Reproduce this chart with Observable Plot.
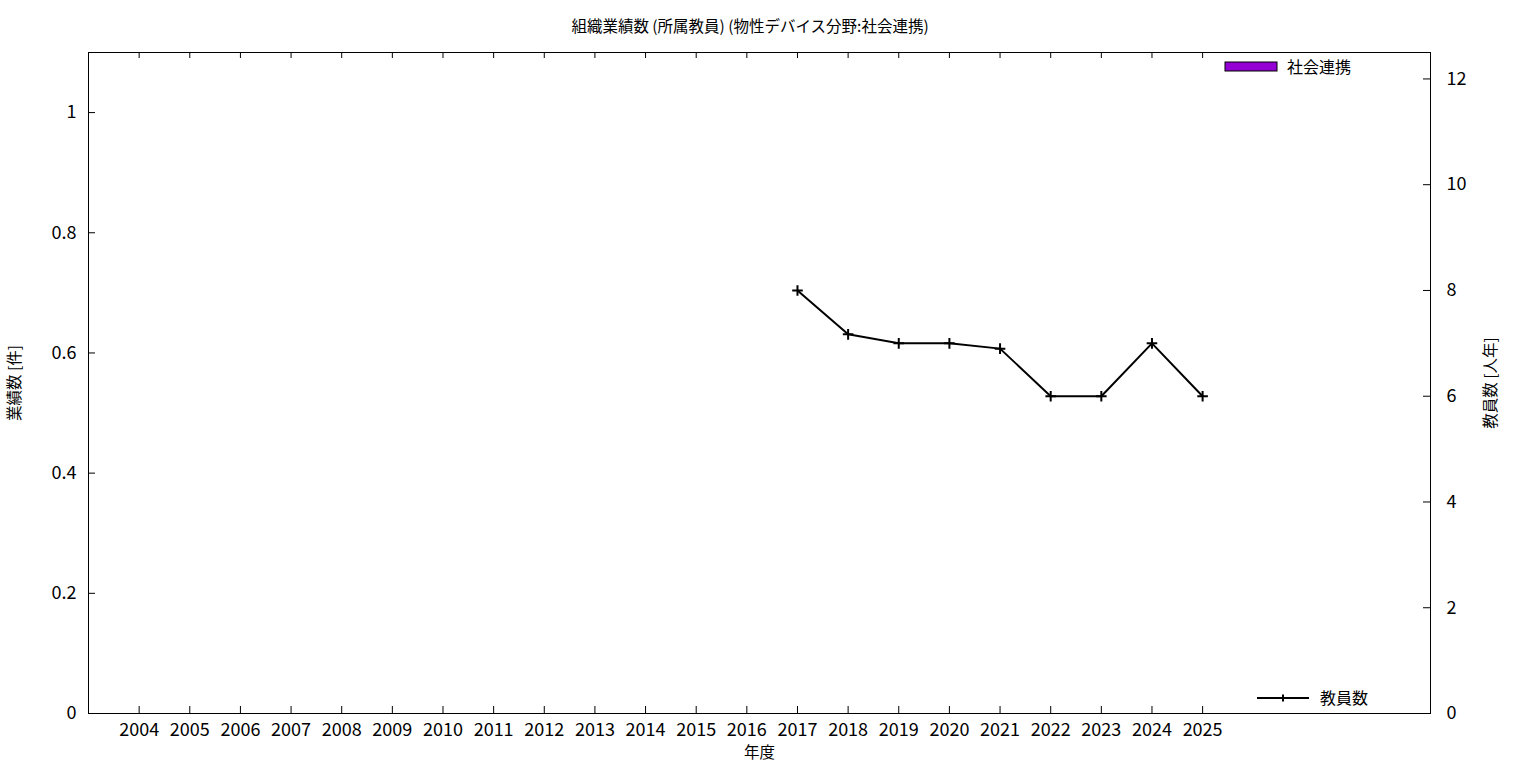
<!DOCTYPE html>
<html>
<head>
<meta charset="utf-8">
<script src="https://cdn.jsdelivr.net/npm/d3@7"></script>
<script src="https://cdn.jsdelivr.net/npm/@observablehq/plot@0.6"></script>
<style>
  html, body { margin: 0; padding: 0; background: #fff; }
  body { width: 1536px; height: 768px; overflow: hidden; font-family: "Noto Sans CJK JP", "Noto Sans", sans-serif; }
  #title { height: 40px; box-sizing: border-box; padding-top: 15px; line-height: 20px; font-size: 15.5px; text-align: center; color: #000; padding-right: 36px; }
  svg { display: block; }
</style>
</head>
<body>
<div id="title">組織業績数 (所属教員) (物性デバイス分野:社会連携)</div>
<div id="chart"></div>
<script>
// ---- data ----
const years = [2004, 2005, 2006, 2007, 2008, 2009, 2010, 2011, 2012, 2013, 2014,
               2015, 2016, 2017, 2018, 2019, 2020, 2021, 2022, 2023, 2024, 2025];
const collaborationCounts = [0, 0, 0, 0, 0, 0, 0, 0, 0, 0, 0,
                             0, 0, 0, 0, 0, 0, 0, 0, 0, 0, 0];
const facultyYears = [2017, 2018, 2019, 2020, 2021, 2022, 2023, 2024, 2025];
const facultyCounts = [8, 7.17, 7, 7, 6.9, 6, 6, 7, 6];
const leftTicks = [0, 0.2, 0.4, 0.6, 0.8, 1];
const rightTicks = [0, 2, 4, 6, 8, 10, 12];
const seriesLabel = "社会連携";
const facultyLabel = "教員数";
const xLabel = "年度";
const leftLabel = "業績数 [件]";
const rightLabel = "教員数 [人年]";

const leftMax = 1.1, rightMax = 12.5;
const toLeft = v => v * leftMax / rightMax;
const fromLeft = v => v * rightMax / leftMax;

const barData = years.map((y, i) => ({year: y, value: collaborationCounts[i]}));
const facultyData = facultyYears.map((y, i) => ({year: y, count: facultyCounts[i]}));

const W = 1536, H = 728;
const mL = 88, mR = 106, mT = 12, mB = 55;
const fw = W - mL - mR, fh = H - mT - mB;
const tick = 7;
const font = '"Noto Sans CJK JP", "Noto Sans", sans-serif';

function legend(index, scales, values, dimensions) {
  const {width, height, marginRight, marginTop, marginBottom} = dimensions;
  const right = width - marginRight;
  const bottom = height - marginBottom;
  const g = d3.create("svg:g").attr("font-family", font).attr("font-size", 16).attr("text-anchor", "start");
  // bar series legend (top right)
  g.append("rect").attr("x", right - 205).attr("y", marginTop + 10).attr("width", 52).attr("height", 9)
    .attr("fill", "#9400d3").attr("stroke", "#000").attr("stroke-width", 1);
  g.append("text").attr("x", right - 143).attr("y", marginTop + 15).attr("dy", "0.35em").attr("fill", "#000").text(seriesLabel);
  // faculty line legend (bottom right)
  const ly = bottom - 15;
  g.append("line").attr("x1", right - 173).attr("x2", right - 121).attr("y1", ly).attr("y2", ly)
    .attr("stroke", "#000").attr("stroke-width", 2);
  g.append("path").attr("d", `M${right - 147 - 3.5},${ly}h7M${right - 147},${ly - 3.5}v7`)
    .attr("stroke", "#000").attr("stroke-width", 2);
  g.append("text").attr("x", right - 110).attr("y", ly).attr("dy", "0.35em").attr("fill", "#000").text(facultyLabel);
  return g.node();
}

const chart = Plot.plot({
  width: W, height: H,
  marginLeft: mL, marginRight: mR, marginTop: mT, marginBottom: mB,
  style: {fontFamily: font, fontSize: "18px", color: "#000", background: "#fff"},
  x: {type: "linear", domain: [2003, 2029.5], axis: null},
  y: {domain: [0, leftMax], axis: null},
  marks: [
    // bars (all zero)
    Plot.rectY(barData, {x1: d => d.year - 0.4, x2: d => d.year + 0.4, y: "value", fill: "#9400d3"}),
    // x ticks, bottom and top (inward)
    Plot.tickX(years, {x: d => d, insetTop: fh - tick, stroke: "#000", strokeWidth: 1}),
    Plot.tickX(years, {x: d => d, insetBottom: fh - tick + 1, stroke: "#000", strokeWidth: 1}),
    Plot.axisX({ticks: years, tickSize: 0, tickPadding: 10, tickFormat: d => String(d), fontSize: 18, label: null}),
    // left y ticks
    Plot.tickY(leftTicks, {y: d => d, insetRight: fw - tick, stroke: "#000"}),
    Plot.axisY({anchor: "left", ticks: leftTicks, tickSize: 0, tickPadding: 12, tickFormat: d => String(d), fontSize: 18, label: null}),
    // right y ticks (faculty scale)
    Plot.tickY(rightTicks.map(toLeft), {y: d => d, insetLeft: fw - tick, stroke: "#000"}),
    Plot.axisY({anchor: "right", ticks: rightTicks.map(toLeft), tickSize: 0, tickPadding: 16,
                tickFormat: d => String(Math.round(fromLeft(d))), fontSize: 18, label: null}),
    // faculty line
    Plot.line(facultyData, {x: "year", y: d => toLeft(d.count), stroke: "#000", strokeWidth: 2}),
    Plot.dot(facultyData, {x: "year", y: d => toLeft(d.count), symbol: "plus", r: 3.5, stroke: "#000", strokeWidth: 2}),
    // frame
    Plot.frame({stroke: "#000", strokeWidth: 1}),
    // axis titles
    Plot.text([xLabel], {text: d => d, frameAnchor: "bottom", dy: 44, fontSize: 15.5, fill: "#000"}),
    Plot.text([leftLabel], {text: d => d, frameAnchor: "left", textAnchor: "middle", dx: -73, rotate: -90, fontSize: 15.5, fill: "#000"}),
    Plot.text([rightLabel], {text: d => d, frameAnchor: "right", textAnchor: "middle", dx: 61, rotate: -90, fontSize: 15.5, fill: "#000"}),
    legend
  ]
});
document.getElementById("chart").append(chart);
</script>
</body>
</html>
